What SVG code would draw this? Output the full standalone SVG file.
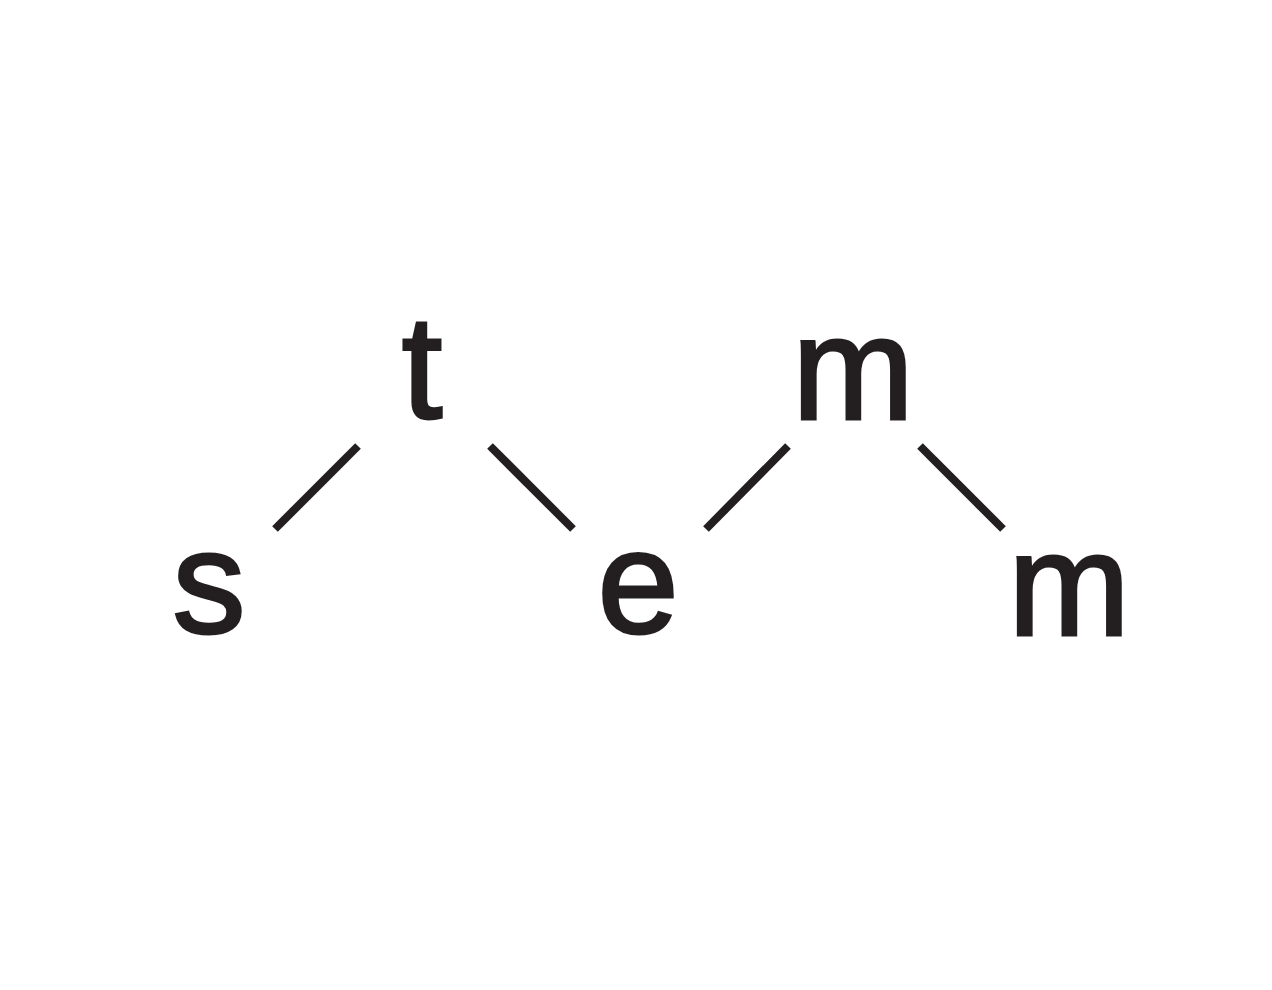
<svg xmlns="http://www.w3.org/2000/svg" width="1272" height="990" viewBox="0 0 1272 990">
<style>
.l{font-family:"Liberation Sans",Arial,sans-serif;font-size:146px;fill:#231f20;stroke:#231f20;stroke-width:3;text-anchor:middle}
.c{stroke:#231f20;stroke-width:8;fill:none}
</style>
<rect width="1272" height="990" fill="#fff"/>
<g id="connectors">
<line class="c" x1="275" y1="529" x2="358" y2="446"/>
<line class="c" x1="490" y1="446" x2="573" y2="529"/>
<line class="c" x1="706" y1="529" x2="788" y2="446"/>
<line class="c" x1="920" y1="446" x2="1003" y2="529"/>
</g>
<g id="n_s"><text class="l" x="209" y="633">s</text></g>
<g id="n_t"><text class="l" x="422" y="418">t</text></g>
<g id="n_e"><text class="l" x="638" y="633">e</text></g>
<g id="n_m1"><text class="l" x="853" y="419">m</text></g>
<g id="n_m2"><text class="l" x="1069" y="635">m</text></g>
</svg>
